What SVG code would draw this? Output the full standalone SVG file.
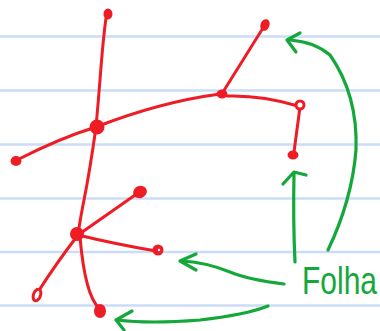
<svg xmlns="http://www.w3.org/2000/svg" width="380" height="331" viewBox="0 0 380 331">
<style>
.rule{stroke:#cadcf7;stroke-width:2.5}
.edge{fill:none;stroke:#ee1c24;stroke-width:3;stroke-linecap:round;stroke-linejoin:round}
.dot{fill:#ee1c24;stroke:#ee1c24;stroke-width:2}
.ring{fill:#fff;stroke:#ee1c24;stroke-width:3}
.g{fill:none;stroke:#14a83a;stroke-width:3.2;stroke-linecap:round;stroke-linejoin:round}
.lbl{font-family:"Liberation Sans",Arial,sans-serif;font-size:30px;fill:#14a83a}
</style>
<rect width="380" height="331" fill="#fff"/>
<g id="rules">
<line class="rule" x1="0" y1="36.5" x2="380" y2="36.5"/>
<line class="rule" x1="0" y1="90.5" x2="380" y2="90.5"/>
<line class="rule" x1="0" y1="144.5" x2="380" y2="144.5"/>
<line class="rule" x1="0" y1="198.5" x2="380" y2="198.5"/>
<line class="rule" x1="0" y1="252" x2="380" y2="252"/>
<line class="rule" x1="0" y1="305.5" x2="380" y2="305.5"/>
</g>
<g id="connectors">
<path class="edge" d="M106,18 Q103,40 100,80 Q98,105 96,127"/>
<path class="edge" d="M96,127 Q90,170 84,200 Q80,220 78,235"/>
<path class="edge" d="M96,127 Q60,138 17,160"/>
<path class="edge" d="M96,127 Q160,102 220,94"/>
<path class="edge" d="M223,92 L263,28"/>
<path class="edge" d="M227,96 Q262,95 298,106"/>
<path class="edge" d="M300,107 L294,152"/>
<path class="edge" d="M78,235 L138,193"/>
<path class="edge" d="M78,235 Q115,244 156,251"/>
<path class="edge" d="M78,235 Q55,265 38,292"/>
<path class="edge" d="M80,237 Q85,295 99,308"/>
<path class="g" d="M328,250 Q352,200 356,150 Q358,95 330,55 Q315,42 290,40"/>
<path class="g" d="M300,33 L287,40 L296,52"/>
<path class="g" d="M295,262 Q293,220 294,173"/>
<path class="g" d="M283,184 L294,172 L306,175"/>
<path class="g" d="M284,284 Q250,280 230,272 Q205,262 181,261"/>
<path class="g" d="M196,254 L180,261 L196,270"/>
<path class="g" d="M268,306 Q245,315 200,320 Q150,324 117,320"/>
<path class="g" d="M132,311 L116,320 L124,330"/>
</g>
<g id="n-top"><ellipse class="dot" cx="108" cy="14" rx="3.5" ry="4.5"/></g>
<g id="n-hub1"><circle class="dot" cx="97" cy="127" r="6.5"/></g>
<g id="n-left"><ellipse class="dot" cx="16" cy="161" rx="4.5" ry="4"/></g>
<g id="n-mid"><ellipse class="dot" cx="222" cy="94" rx="4.5" ry="3.5"/></g>
<g id="n-topright"><ellipse class="dot" cx="265" cy="25" rx="3.5" ry="5" transform="rotate(20 265 25)"/></g>
<g id="n-right"><circle class="ring" cx="300" cy="105" r="4"/></g>
<g id="n-rightleaf"><ellipse class="dot" cx="293" cy="155" rx="4.5" ry="3.5"/></g>
<g id="n-hub2"><circle class="dot" cx="77" cy="234" r="6"/></g>
<g id="n-a"><ellipse class="dot" cx="140" cy="192" rx="6" ry="5" transform="rotate(-20 140 192)"/></g>
<g id="n-b"><circle class="dot" cx="158" cy="250" r="4.5"/><circle cx="159" cy="250" r="1.2" fill="#fff"/></g>
<g id="n-c"><ellipse class="ring" cx="37" cy="295" rx="3.5" ry="6" transform="rotate(20 37 295)"/></g>
<g id="n-d"><ellipse class="dot" cx="100" cy="311" rx="5" ry="6"/></g>
<g id="label"><text class="lbl" transform="translate(302,294) scale(1,1.3)">Folha</text></g>
</svg>
